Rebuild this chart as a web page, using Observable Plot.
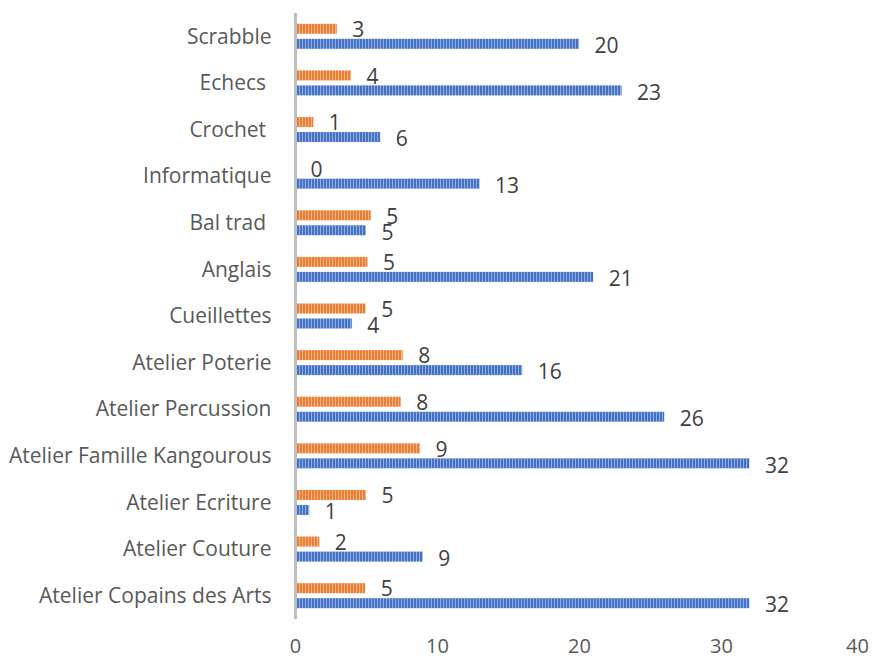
<!DOCTYPE html>
<html>
<head>
<meta charset="utf-8">
<script src="https://cdn.jsdelivr.net/npm/d3@7"></script>
<script src="https://cdn.jsdelivr.net/npm/@observablehq/plot@0.6"></script>
<style>
  html, body { margin: 0; padding: 0; background: #fff; }
  svg text { white-space: pre; }
</style>
</head>
<body>
<div id="chart"></div>
<script>
// Categories, top to bottom
const categories = [
  "Scrabble", "Echecs ", "Crochet ", "Informatique", "Bal trad ", "Anglais",
  "Cueillettes", "Atelier Poterie", "Atelier Percussion",
  "Atelier Famille Kangourous", "Atelier Ecriture", "Atelier Couture",
  "Atelier Copains des Arts"
];
// Orange series (bar lengths as drawn, and their data labels)
const orangeValues = [2.94, 3.94, 1.29, 0, 5.33, 5.1, 4.98, 7.58, 7.44, 8.8, 5.0, 1.71, 4.94];
const orangeLabels = ["3", "4", "1", "0", "5", "5", "5", "8", "8", "9", "5", "2", "5"];
// Blue series
const blueValues = [20, 23, 6, 13, 5, 21, 4, 16, 26, 32, 1, 9, 32];
const blueLabels = ["20", "23", "6", "13", "5", "21", "4", "16", "26", "32", "1", "9", "32"];
// X axis ticks
const xTicks = [0, 10, 20, 30];
const xLastTick = [40];

const orange = categories.map((c, i) => ({cat: c, value: orangeValues[i], label: orangeLabels[i]}));
const blue = categories.map((c, i) => ({cat: c, value: blueValues[i], label: blueLabels[i]}));

const W = 874, H = 660, mt = 13, mb = 41, ml = 295, mr = 11;
const bw = (H - mt - mb) / categories.length;
const half = bw / 2;
const font = "'Open Sans', sans-serif";

const chart = Plot.plot({
  width: W,
  height: H,
  marginTop: mt,
  marginBottom: mb,
  marginLeft: ml,
  marginRight: mr,
  style: {fontFamily: font, background: "#fff"},
  x: {domain: [0, 40], axis: null},
  y: {domain: categories, padding: 0, round: false, axis: null},
  marks: [
    Plot.barX(orange, {x: "value", y: "cat", fill: "url(#patOrange)", insetTop: half - 12.5, insetBottom: half + 2.5}),
    Plot.barX(blue, {x: "value", y: "cat", fill: "url(#patBlue)", insetTop: half + 2.5, insetBottom: half - 12.5}),
    Plot.ruleX([0], {stroke: "#bfbfbf", strokeWidth: 3}),
    Plot.text(orange, {x: "value", y: "cat", text: "label", dx: 15, dy: -6.5, textAnchor: "start", fontSize: 21, fill: "#404040"}),
    Plot.text(blue, {x: "value", y: "cat", text: "label", dx: 15, dy: 9.5, textAnchor: "start", fontSize: 21, fill: "#404040"}),
    Plot.axisY({tickSize: 0, tickPadding: 24, fontSize: 21, fill: "#595959", label: null, dy: 0}),
    Plot.axisX({ticks: xTicks, tickSize: 0, tickPadding: 19, fontSize: 20, fill: "#595959", label: null}),
    Plot.axisX({ticks: xLastTick, tickSize: 0, tickPadding: 19, fontSize: 20, fill: "#595959", label: null, dx: -6})
  ]
});

const ns = "http://www.w3.org/2000/svg";
const defs = document.createElementNS(ns, "defs");
defs.innerHTML = `
  <pattern id="patOrange" patternUnits="userSpaceOnUse" width="3" height="10">
    <rect width="3" height="10" fill="#f6b68a"/>
    <rect width="2" height="10" fill="#ed7d31"/>
  </pattern>
  <pattern id="patBlue" patternUnits="userSpaceOnUse" width="3" height="10">
    <rect width="3" height="10" fill="#93aee0"/>
    <rect width="2" height="10" fill="#4472c4"/>
  </pattern>`;
chart.insertBefore(defs, chart.firstChild);
document.getElementById("chart").appendChild(chart);
</script>
</body>
</html>
